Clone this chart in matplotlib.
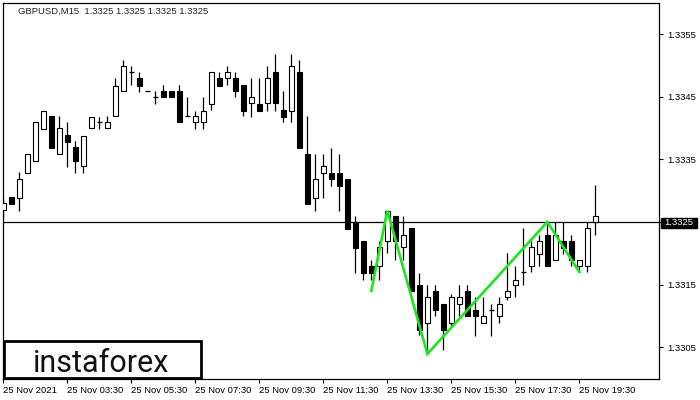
import matplotlib
matplotlib.use("Agg")
import matplotlib.pyplot as plt
from matplotlib.patches import Rectangle

# ---- data (GBPUSD M15) ----
opens = [1.33269, 1.33290, 1.33289, 1.33329, 1.33348, 1.33399, 1.33419, 1.33358, 1.33389, 1.33370,
         1.33339, 1.33400, 1.33410, 1.33400, 1.33419, 1.33459, 1.33490, 1.33480, 1.33459, 1.33449,
         1.33459, 1.33459, 1.33459, 1.33419, 1.33409, 1.33409, 1.33439, 1.33480, 1.33480, 1.33480,
         1.33469, 1.33440, 1.33439, 1.33440, 1.33489, 1.33429, 1.33428, 1.33489, 1.33358, 1.33289,
         1.33329, 1.33329, 1.33329, 1.33318, 1.33250, 1.33220, 1.33180, 1.33180, 1.33219, 1.33260,
         1.33210, 1.33240, 1.33149, 1.33089, 1.33139, 1.33119, 1.33089, 1.33119, 1.33139, 1.33109,
         1.33089, 1.33109, 1.33099, 1.33130, 1.33149, 1.33170, 1.33180, 1.33199, 1.33229, 1.33189,
         1.33219, 1.33219, 1.33179, 1.33179, 1.33250]
highs = [1.33290, 1.33290, 1.33330, 1.33358, 1.33410, 1.33428, 1.33419, 1.33419, 1.33410, 1.33380,
         1.33388, 1.33418, 1.33418, 1.33419, 1.33480, 1.33509, 1.33499, 1.33490, 1.33459, 1.33459,
         1.33469, 1.33459, 1.33469, 1.33449, 1.33428, 1.33449, 1.33489, 1.33490, 1.33499, 1.33490,
         1.33469, 1.33480, 1.33480, 1.33499, 1.33519, 1.33459, 1.33519, 1.33509, 1.33419, 1.33358,
         1.33358, 1.33369, 1.33358, 1.33318, 1.33260, 1.33220, 1.33189, 1.33220, 1.33268, 1.33260,
         1.33260, 1.33240, 1.33169, 1.33149, 1.33149, 1.33119, 1.33135, 1.33149, 1.33149, 1.33130,
         1.33130, 1.33119, 1.33130, 1.33200, 1.33179, 1.33240, 1.33220, 1.33229, 1.33250, 1.33250,
         1.33250, 1.33229, 1.33189, 1.33250, 1.33309]
lows = [1.33258, 1.33279, 1.33268, 1.33329, 1.33348, 1.33399, 1.33369, 1.33358, 1.33338, 1.33329,
        1.33329, 1.33400, 1.33399, 1.33400, 1.33419, 1.33459, 1.33469, 1.33458, 1.33459, 1.33439,
        1.33449, 1.33449, 1.33409, 1.33419, 1.33399, 1.33399, 1.33429, 1.33468, 1.33469, 1.33449,
        1.33419, 1.33418, 1.33428, 1.33428, 1.33428, 1.33409, 1.33409, 1.33369, 1.33279, 1.33268,
        1.33289, 1.33308, 1.33268, 1.33239, 1.33169, 1.33158, 1.33157, 1.33158, 1.33200, 1.33189,
        1.33189, 1.33139, 1.33070, 1.33039, 1.33099, 1.33046, 1.33081, 1.33099, 1.33099, 1.33068,
        1.33089, 1.33068, 1.33089, 1.33125, 1.33130, 1.33149, 1.33170, 1.33180, 1.33179, 1.33189,
        1.33199, 1.33180, 1.33170, 1.33170, 1.33229]
closes = [1.33280, 1.33279, 1.33318, 1.33358, 1.33410, 1.33428, 1.33369, 1.33400, 1.33378, 1.33348,
          1.33388, 1.33418, 1.33410, 1.33410, 1.33468, 1.33499, 1.33490, 1.33468, 1.33459, 1.33449,
          1.33449, 1.33449, 1.33409, 1.33419, 1.33419, 1.33428, 1.33489, 1.33468, 1.33489, 1.33459,
          1.33428, 1.33449, 1.33428, 1.33480, 1.33440, 1.33418, 1.33499, 1.33369, 1.33279, 1.33318,
          1.33339, 1.33318, 1.33308, 1.33239, 1.33209, 1.33169, 1.33169, 1.33210, 1.33268, 1.33219,
          1.33229, 1.33139, 1.33077, 1.33130, 1.33109, 1.33077, 1.33130, 1.33130, 1.33099, 1.33099,
          1.33099, 1.33109, 1.33119, 1.33140, 1.33158, 1.33170, 1.33210, 1.33220, 1.33179, 1.33229,
          1.33209, 1.33189, 1.33189, 1.33240, 1.33259]

pattern_idx = [46, 48, 53, 68, 72]
pattern_px = [1.33140, 1.33268, 1.33039, 1.33250, 1.33170]

current_price = 1.3325
y_ticks = [1.3305, 1.3315, 1.3325, 1.3335, 1.3345, 1.3355]
x_tick_idx = [0, 8, 16, 24, 32, 40, 48, 56, 64, 72]
x_tick_labels = ["25 Nov 2021", "25 Nov 03:30", "25 Nov 05:30", "25 Nov 07:30", "25 Nov 09:30",
                 "25 Nov 11:30", "25 Nov 13:30", "25 Nov 15:30", "25 Nov 17:30", "25 Nov 19:30"]
title = "GBPUSD,M15  1.3325 1.3325 1.3325 1.3325"

W, H = 700, 400
fig = plt.figure(figsize=(W / 100, H / 100), dpi=100)
fig.patch.set_facecolor("white")
ax = fig.add_axes([3 / W, 21 / H, 656 / W, 376 / H])
ax.set_facecolor("white")
ax.set_xlim(-0.04, 81.96)
ax.set_ylim(1.32999, 1.33600)

tick_font = dict(family="Liberation Sans", size=6.8)

# price line
ax.axhline(current_price, color="black", lw=0.9, zorder=1)

# candles
n = len(opens)
xs = list(range(n))
ax.vlines(xs, lows, highs, color="black", lw=0.9, zorder=2)
bw = 0.62
for i in xs:
    o, c = opens[i], closes[i]
    bottom = min(o, c)
    h = abs(c - o)
    face = "white" if c >= o else "black"
    if h < 1e-7:
        ax.hlines(o, i - bw / 2, i + bw / 2, color="black", lw=0.9, zorder=3)
    else:
        ax.bar(i, h, bottom=bottom, width=bw, color=face, edgecolor="black",
               linewidth=0.8, zorder=3)

# pattern line
ax.plot(pattern_idx, pattern_px, color="#1ee61e", lw=1.9, zorder=4, solid_joinstyle="miter")

# axes styling
for s in ax.spines.values():
    s.set_color("black")
    s.set_linewidth(0.9)
ax.yaxis.tick_right()
ax.set_yticks(y_ticks)
ax.set_yticklabels(["" if abs(v - current_price) < 1e-9 else f"{v:.4f}" for v in y_ticks],
                   **tick_font)
ax.set_xticks(x_tick_idx)
ax.set_xticklabels(x_tick_labels, **tick_font)
for lab in ax.get_xticklabels():
    lab.set_horizontalalignment("left")
ax.tick_params(axis="x", direction="out", length=3, width=0.8, pad=2, colors="black")
ax.tick_params(axis="y", direction="out", length=3, width=0.8, pad=3, colors="black")

# title
fig.text(18 / W, 1 - 11 / H, title, ha="left", va="center", color="#222222",
         family="Liberation Sans", size=6.8)

# current price box on right axis
fig.patches.append(Rectangle((661 / W, 1 - 227.5 / H), 36 / W, 9.5 / H,
                             transform=fig.transFigure, facecolor="black",
                             edgecolor="black", zorder=10))
fig.text(679 / W, 1 - 222.8 / H, "1.3325", ha="center", va="center", color="white",
         family="Liberation Sans", size=6.8, zorder=11)

# logo box
fig.patches.append(Rectangle((4 / W, 1 - 378 / H), 197 / W, 37.5 / H,
                             transform=fig.transFigure, facecolor="white",
                             edgecolor="black", linewidth=2.0, zorder=10))
fig.text(101 / W, 1 - 372 / H, "instaforex", ha="center", va="baseline", color="#111111",
         family="Roboto", weight="normal", size=22, zorder=11)

fig.savefig("out.png", dpi=100, facecolor="white")
